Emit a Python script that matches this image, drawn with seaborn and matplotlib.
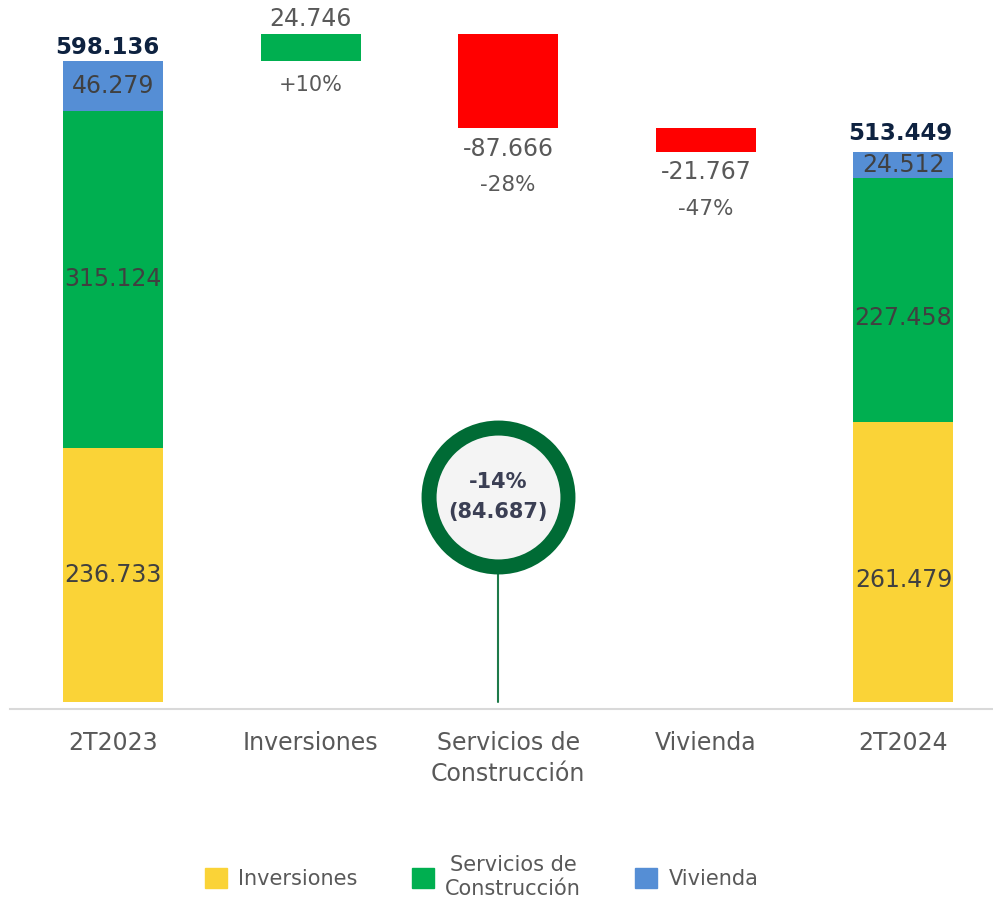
import numpy as np
import pandas as pd
import matplotlib
matplotlib.use("Agg")
import matplotlib.pyplot as plt
from matplotlib.patches import Patch
import seaborn as sns

# data
categories = ["2T2023", "Inversiones", "Servicios de\nConstrucción", "Vivienda", "2T2024"]
inversiones = [236733, 0, 0, 0, 261479]
servicios = [315124, 0, 0, 0, 227458]
vivienda = [46279, 0, 0, 0, 24512]
deltas = [0, 24746, -87666, -21767, 0]
delta_pct = ["", "+10%", "-28%", "-47%", ""]
total_change_pct = "-14%"
total_change_abs = "(84.687)"

YELLOW = "#FAD337"
GREEN = "#00AF50"
BLUE = "#558ED5"
RED = "#FF0000"
RING = "#006B35"


def fmt(v):
    return f"{abs(v):,}".replace(",", ".")


sns.set_style("white")
plt.rcParams["font.family"] = ["DejaVu Sans"]

fig = plt.figure(figsize=(9.93, 9.07), dpi=100)
ax = fig.add_axes([10 / 993, 198 / 907, 983 / 993, 709 / 907])

df = pd.DataFrame({"cat": categories, "inv": inversiones, "sc": servicios, "viv": vivienda})
inv = np.array(inversiones)
sc = np.array(servicios)
viv = np.array(vivienda)
totals = inv + sc + viv

# running totals for the floating bars
start = totals[0]
running = start + np.cumsum(deltas)
prev = running - np.array(deltas)
up = np.where(np.array(deltas) > 0, deltas, 0)
down = np.where(np.array(deltas) < 0, -np.array(deltas), 0)
up_bottom = np.where(np.array(deltas) > 0, prev, 0)
down_bottom = np.where(np.array(deltas) < 0, running, 0)

W = 0.506
kw = dict(x="cat", order=categories, width=W, errorbar=None, saturation=1, ax=ax, linewidth=0)
sns.barplot(data=df, y="inv", color=YELLOW, **kw)
sns.barplot(data=df, y="sc", color=GREEN, bottom=inv, **kw)
sns.barplot(data=df, y="viv", color=BLUE, bottom=inv + sc, **kw)
sns.barplot(data=df.assign(v=up), y="v", color=GREEN, bottom=up_bottom, **kw)
sns.barplot(data=df.assign(v=down), y="v", color=RED, bottom=down_bottom, **kw)

ax.set_xlim(-0.521, 4.453)
ax.set_ylim(-6532, 655040)
ax.set_xlabel("")
ax.set_ylabel("")
ax.set_yticks([])
for s in ["top", "left", "right"]:
    ax.spines[s].set_visible(False)
ax.spines["bottom"].set_color("#D9D9D9")
ax.spines["bottom"].set_linewidth(1.5)
ax.tick_params(axis="x", length=0, pad=16, labelsize=17, labelcolor="#595959")
for t in ax.get_xticklabels():
    t.set_linespacing(1.35)

# labels inside the stacked end bars
inner = dict(ha="center", va="center", fontsize=17, color="#404040")
for i in [0, len(categories) - 1]:
    shift = 0 if i == 0 else -13
    segs = [(inv[i], 0, shift), (sc[i], inv[i], shift), (viv[i], inv[i] + sc[i], 0)]
    for h, b, dy in segs:
        ax.annotate(fmt(h), (i, b + h / 2), xytext=(0, dy), textcoords="offset points", **inner)
    ax.annotate(fmt(totals[i]), (i, totals[i]), xytext=(-4 if i == 0 else -2, 10 if i == 0 else 13),
                textcoords="offset points", ha="center", va="center",
                fontsize=16.5, fontweight="bold", color="#0E2240")

# labels for the floating bars
for i, d in enumerate(deltas):
    if d == 0:
        continue
    if d > 0:
        ax.annotate(fmt(d), (i, running[i]), xytext=(0, 11), textcoords="offset points",
                    ha="center", va="center", fontsize=17, color="#595959")
        ax.annotate(delta_pct[i], (i, prev[i]), xytext=(0, -17), textcoords="offset points",
                    ha="center", va="center", fontsize=15, color="#595959")
    else:
        ax.annotate("-" + fmt(d), (i, running[i]), xytext=(0, -14.5), textcoords="offset points",
                    ha="center", va="center", fontsize=17, color="#595959")
        ax.annotate(delta_pct[i], (i, running[i]), xytext=(0, -41), textcoords="offset points",
                    ha="center", va="center", fontsize=15.5, color="#595959")

# total change bubble
cx, cy = 1.95, 191300
ax.plot([cx, cx], [0, cy], color="#1E7A4A", lw=1.5, zorder=3)
ax.scatter([cx], [cy], s=100 ** 2, color="#F4F4F4", edgecolor=RING, linewidth=10.8, zorder=4)
ax.text(cx, cy, f"{total_change_pct}\n{total_change_abs}", ha="center", va="center",
        fontsize=15, fontweight="bold", color="#3B3F54", linespacing=1.65, zorder=5)

handles = [Patch(color=YELLOW), Patch(color=GREEN), Patch(color=BLUE)]
leg = fig.legend(handles, ["Inversiones", "Servicios de\nConstrucción", "Vivienda"],
                 loc="center", bbox_to_anchor=(0.485, 0.033), ncol=3, frameon=False,
                 fontsize=15, handlelength=1.05, handleheight=1.05, handletextpad=0.55,
                 columnspacing=2.6, labelcolor="#595959")
for t in leg.get_texts():
    t.set_multialignment("center")

fig.savefig("out.png", dpi=100)
